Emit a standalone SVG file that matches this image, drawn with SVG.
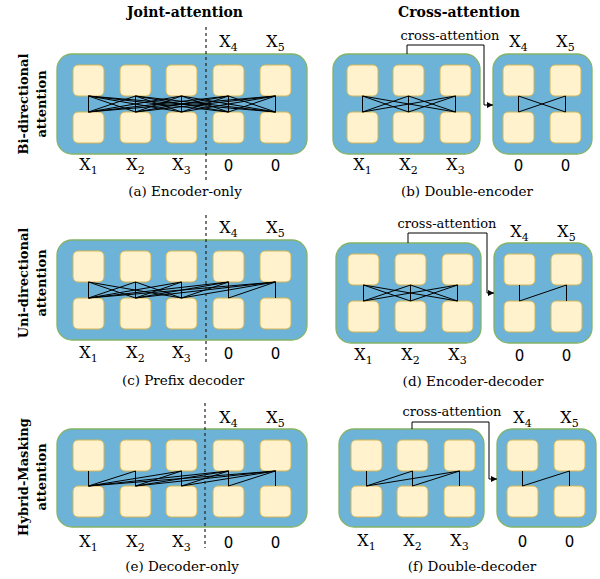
<svg xmlns="http://www.w3.org/2000/svg" width="600" height="579" viewBox="0 0 600 579">
<defs>
<style>
.box{fill:#6db3d8;stroke:#82b366;stroke-width:1.3}
.sq{fill:#fff2cc;stroke:#d6b656;stroke-width:1}
.ln{stroke:#000;stroke-width:1;fill:none}
.dash{stroke:#222;stroke-width:1.2;stroke-dasharray:3,3;fill:none}
.title{font-family:"DejaVu Serif",serif;font-weight:bold;font-size:14px;text-anchor:middle}
.side{font-family:"DejaVu Serif",serif;font-weight:bold;font-size:13px;text-anchor:middle}
.cap{font-family:"DejaVu Serif",serif;font-size:13.5px;text-anchor:middle}
.xl{font-family:"DejaVu Serif",serif;font-size:16px;text-anchor:middle}
.sub{font-size:11px}
.zero{font-family:"DejaVu Sans",sans-serif;font-size:15px;text-anchor:middle}
.ca{font-family:"DejaVu Serif",serif;font-size:13px;text-anchor:middle}
</style>
<marker id="arr" markerUnits="userSpaceOnUse" markerWidth="7" markerHeight="7" refX="6" refY="3" orient="auto">
<path d="M0,0 L6,3 L0,6 z" fill="#000"/>
</marker>
</defs>
<rect width="600" height="579" fill="#fff"/>

<!-- Titles -->
<text class="title" x="185" y="17">Joint-attention</text>
<text class="title" x="459" y="17">Cross-attention</text>

<!-- Side labels -->
<g class="side">
<text transform="translate(28,104) rotate(-90)">Bi-directional</text>
<text transform="translate(46,104) rotate(-90)">attention</text>
<text transform="translate(28,283) rotate(-90)">Uni-directional</text>
<text transform="translate(46,283) rotate(-90)">attention</text>
<text transform="translate(28,477) rotate(-90)">Hybrid-Masking</text>
<text transform="translate(46,477) rotate(-90)">attention</text>
</g>

<!-- ===== Panel (a) ===== -->
<g id="a-container"><rect class="box" x="57" y="54" width="250" height="100" rx="15"/></g>
<g id="a-t1"><rect class="sq" x="73" y="65" width="31" height="31" rx="5"/></g>
<g id="a-t2"><rect class="sq" x="120" y="65" width="31" height="31" rx="5"/></g>
<g id="a-t3"><rect class="sq" x="166" y="65" width="31" height="31" rx="5"/></g>
<g id="a-t4"><rect class="sq" x="213" y="65" width="31" height="31" rx="5"/></g>
<g id="a-t5"><rect class="sq" x="260" y="65" width="31" height="31" rx="5"/></g>
<g id="a-b1"><rect class="sq" x="73" y="112" width="31" height="31" rx="5"/></g>
<g id="a-b2"><rect class="sq" x="120" y="112" width="31" height="31" rx="5"/></g>
<g id="a-b3"><rect class="sq" x="166" y="112" width="31" height="31" rx="5"/></g>
<g id="a-b4"><rect class="sq" x="213" y="112" width="31" height="31" rx="5"/></g>
<g id="a-b5"><rect class="sq" x="260" y="112" width="31" height="31" rx="5"/></g>

<!-- ===== Panel (c) ===== -->
<g id="c-container"><rect class="box" x="57" y="240" width="250" height="100" rx="15"/></g>
<g id="c-t1"><rect class="sq" x="73" y="251" width="31" height="31" rx="5"/></g>
<g id="c-t2"><rect class="sq" x="120" y="251" width="31" height="31" rx="5"/></g>
<g id="c-t3"><rect class="sq" x="166" y="251" width="31" height="31" rx="5"/></g>
<g id="c-t4"><rect class="sq" x="213" y="251" width="31" height="31" rx="5"/></g>
<g id="c-t5"><rect class="sq" x="260" y="251" width="31" height="31" rx="5"/></g>
<g id="c-b1"><rect class="sq" x="73" y="298" width="31" height="31" rx="5"/></g>
<g id="c-b2"><rect class="sq" x="120" y="298" width="31" height="31" rx="5"/></g>
<g id="c-b3"><rect class="sq" x="166" y="298" width="31" height="31" rx="5"/></g>
<g id="c-b4"><rect class="sq" x="213" y="298" width="31" height="31" rx="5"/></g>
<g id="c-b5"><rect class="sq" x="260" y="298" width="31" height="31" rx="5"/></g>

<!-- ===== Panel (e) ===== -->
<g id="e-container"><rect class="box" x="57" y="429" width="250" height="98" rx="15"/></g>
<g id="e-t1"><rect class="sq" x="73" y="440" width="31" height="31" rx="5"/></g>
<g id="e-t2"><rect class="sq" x="120" y="440" width="31" height="31" rx="5"/></g>
<g id="e-t3"><rect class="sq" x="166" y="440" width="31" height="31" rx="5"/></g>
<g id="e-t4"><rect class="sq" x="213" y="440" width="31" height="31" rx="5"/></g>
<g id="e-t5"><rect class="sq" x="260" y="440" width="31" height="31" rx="5"/></g>
<g id="e-b1"><rect class="sq" x="73" y="486" width="31" height="31" rx="5"/></g>
<g id="e-b2"><rect class="sq" x="120" y="486" width="31" height="31" rx="5"/></g>
<g id="e-b3"><rect class="sq" x="166" y="486" width="31" height="31" rx="5"/></g>
<g id="e-b4"><rect class="sq" x="213" y="486" width="31" height="31" rx="5"/></g>
<g id="e-b5"><rect class="sq" x="260" y="486" width="31" height="31" rx="5"/></g>

<!-- ===== Panel (b) ===== -->
<g id="b-enc"><rect class="box" x="333" y="54" width="147" height="100" rx="15"/></g>
<g id="b-dec"><rect class="box" x="493" y="54" width="99" height="100" rx="15"/></g>
<g id="b-t1"><rect class="sq" x="347" y="65" width="31" height="31" rx="5"/></g>
<g id="b-t2"><rect class="sq" x="393" y="65" width="31" height="31" rx="5"/></g>
<g id="b-t3"><rect class="sq" x="440" y="65" width="31" height="31" rx="5"/></g>
<g id="b-t4"><rect class="sq" x="503" y="65" width="31" height="31" rx="5"/></g>
<g id="b-t5"><rect class="sq" x="550" y="65" width="31" height="31" rx="5"/></g>
<g id="b-b1"><rect class="sq" x="347" y="112" width="31" height="31" rx="5"/></g>
<g id="b-b2"><rect class="sq" x="393" y="112" width="31" height="31" rx="5"/></g>
<g id="b-b3"><rect class="sq" x="440" y="112" width="31" height="31" rx="5"/></g>
<g id="b-b4"><rect class="sq" x="503" y="112" width="31" height="31" rx="5"/></g>
<g id="b-b5"><rect class="sq" x="550" y="112" width="31" height="31" rx="5"/></g>

<!-- ===== Panel (d) ===== -->
<g id="d-enc"><rect class="box" x="336" y="243" width="145" height="100" rx="15"/></g>
<g id="d-dec"><rect class="box" x="494" y="243" width="98" height="100" rx="15"/></g>
<g id="d-t1"><rect class="sq" x="348" y="254" width="31" height="31" rx="5"/></g>
<g id="d-t2"><rect class="sq" x="395" y="254" width="31" height="31" rx="5"/></g>
<g id="d-t3"><rect class="sq" x="442" y="254" width="31" height="31" rx="5"/></g>
<g id="d-t4"><rect class="sq" x="504" y="254" width="31" height="31" rx="5"/></g>
<g id="d-t5"><rect class="sq" x="551" y="254" width="31" height="31" rx="5"/></g>
<g id="d-b1"><rect class="sq" x="348" y="301" width="31" height="31" rx="5"/></g>
<g id="d-b2"><rect class="sq" x="395" y="301" width="31" height="31" rx="5"/></g>
<g id="d-b3"><rect class="sq" x="442" y="301" width="31" height="31" rx="5"/></g>
<g id="d-b4"><rect class="sq" x="504" y="301" width="31" height="31" rx="5"/></g>
<g id="d-b5"><rect class="sq" x="551" y="301" width="31" height="31" rx="5"/></g>

<!-- ===== Panel (f) ===== -->
<g id="f-enc"><rect class="box" x="339" y="429" width="145" height="98" rx="15"/></g>
<g id="f-dec"><rect class="box" x="497" y="429" width="99" height="98" rx="15"/></g>
<g id="f-t1"><rect class="sq" x="351" y="440" width="31" height="31" rx="5"/></g>
<g id="f-t2"><rect class="sq" x="397" y="440" width="31" height="31" rx="5"/></g>
<g id="f-t3"><rect class="sq" x="444" y="440" width="31" height="31" rx="5"/></g>
<g id="f-t4"><rect class="sq" x="507" y="440" width="31" height="31" rx="5"/></g>
<g id="f-t5"><rect class="sq" x="554" y="440" width="31" height="31" rx="5"/></g>
<g id="f-b1"><rect class="sq" x="351" y="486" width="31" height="31" rx="5"/></g>
<g id="f-b2"><rect class="sq" x="397" y="486" width="31" height="31" rx="5"/></g>
<g id="f-b3"><rect class="sq" x="444" y="486" width="31" height="31" rx="5"/></g>
<g id="f-b4"><rect class="sq" x="507" y="486" width="31" height="31" rx="5"/></g>
<g id="f-b5"><rect class="sq" x="554" y="486" width="31" height="31" rx="5"/></g>

<!-- ===== Connectors ===== -->
<g id="connectors" class="ln">
<!-- (a) full bidirectional -->
<path d="M88.5,96 L88.5,112 M88.5,96 L135.5,112 M88.5,96 L181.5,112 M88.5,96 L228.5,112 M88.5,96 L275.5,112
M135.5,96 L88.5,112 M135.5,96 L135.5,112 M135.5,96 L181.5,112 M135.5,96 L228.5,112 M135.5,96 L275.5,112
M181.5,96 L88.5,112 M181.5,96 L135.5,112 M181.5,96 L181.5,112 M181.5,96 L228.5,112 M181.5,96 L275.5,112
M228.5,96 L88.5,112 M228.5,96 L135.5,112 M228.5,96 L181.5,112 M228.5,96 L228.5,112 M228.5,96 L275.5,112
M275.5,96 L88.5,112 M275.5,96 L135.5,112 M275.5,96 L181.5,112 M275.5,96 L228.5,112 M275.5,96 L275.5,112"/>
<!-- (c) prefix decoder -->
<path d="M88.5,282 L88.5,298 M88.5,282 L135.5,298 M88.5,282 L181.5,298
M135.5,282 L88.5,298 M135.5,282 L135.5,298 M135.5,282 L181.5,298
M181.5,282 L88.5,298 M181.5,282 L135.5,298 M181.5,282 L181.5,298
M228.5,282 L88.5,298 M228.5,282 L135.5,298 M228.5,282 L181.5,298 M228.5,282 L228.5,298
M275.5,282 L88.5,298 M275.5,282 L135.5,298 M275.5,282 L181.5,298 M275.5,282 L228.5,298 M275.5,282 L275.5,298"/>
<!-- (e) decoder-only causal -->
<path d="M88.5,471 L88.5,486
M135.5,471 L88.5,486 M135.5,471 L135.5,486
M181.5,471 L88.5,486 M181.5,471 L135.5,486 M181.5,471 L181.5,486
M228.5,471 L88.5,486 M228.5,471 L135.5,486 M228.5,471 L181.5,486 M228.5,471 L228.5,486
M275.5,471 L88.5,486 M275.5,471 L135.5,486 M275.5,471 L181.5,486 M275.5,471 L228.5,486 M275.5,471 L275.5,486"/>
<!-- (b) double encoder -->
<path d="M362.5,96 L362.5,112 M362.5,96 L408.5,112 M362.5,96 L455.5,112
M408.5,96 L362.5,112 M408.5,96 L408.5,112 M408.5,96 L455.5,112
M455.5,96 L362.5,112 M455.5,96 L408.5,112 M455.5,96 L455.5,112
M518.5,96 L518.5,112 M518.5,96 L565.5,112 M565.5,96 L518.5,112 M565.5,96 L565.5,112"/>
<!-- (d) encoder-decoder -->
<path d="M363.5,285 L363.5,301 M363.5,285 L410.5,301 M363.5,285 L457.5,301
M410.5,285 L363.5,301 M410.5,285 L410.5,301 M410.5,285 L457.5,301
M457.5,285 L363.5,301 M457.5,285 L410.5,301 M457.5,285 L457.5,301
M519.5,285 L519.5,301 M566.5,285 L519.5,301 M566.5,285 L566.5,301"/>
<!-- (f) double decoder -->
<path d="M366.5,471 L366.5,486
M412.5,471 L366.5,486 M412.5,471 L412.5,486
M459.5,471 L366.5,486 M459.5,471 L412.5,486 M459.5,471 L459.5,486
M522.5,471 L522.5,486 M569.5,471 L522.5,486 M569.5,471 L569.5,486"/>
<!-- cross-attention arrows -->
<path d="M407,54 V45 H484 V105 H493" marker-end="url(#arr)"/>
<path d="M408,243 V233 H487 V293 H494" marker-end="url(#arr)"/>
<path d="M412,429 V422 H489 V479 H497" marker-end="url(#arr)"/>
</g>

<!-- dashed separators -->
<g id="separators">
<line class="dash" x1="206" y1="27" x2="206" y2="180"/>
<line class="dash" x1="206" y1="215" x2="206" y2="363"/>
<line class="dash" x1="205" y1="403" x2="205" y2="548"/>
</g>

<!-- cross-attention labels -->
<text class="ca" x="450" y="40">cross-attention</text>
<text class="ca" x="447" y="228">cross-attention</text>
<text class="ca" x="452" y="416">cross-attention</text>

<!-- token labels -->
<g class="xl">
<text x="228.5" y="47">X<tspan class="sub" dy="4">4</tspan></text>
<text x="275.5" y="47">X<tspan class="sub" dy="4">5</tspan></text>
<text x="88.5" y="170">X<tspan class="sub" dy="4">1</tspan></text>
<text x="135.5" y="170">X<tspan class="sub" dy="4">2</tspan></text>
<text x="181.5" y="170">X<tspan class="sub" dy="4">3</tspan></text>
<text x="228.5" y="233">X<tspan class="sub" dy="4">4</tspan></text>
<text x="275.5" y="233">X<tspan class="sub" dy="4">5</tspan></text>
<text x="88.5" y="358">X<tspan class="sub" dy="4">1</tspan></text>
<text x="135.5" y="358">X<tspan class="sub" dy="4">2</tspan></text>
<text x="181.5" y="358">X<tspan class="sub" dy="4">3</tspan></text>
<text x="228.5" y="423">X<tspan class="sub" dy="4">4</tspan></text>
<text x="275.5" y="423">X<tspan class="sub" dy="4">5</tspan></text>
<text x="88.5" y="547">X<tspan class="sub" dy="4">1</tspan></text>
<text x="135.5" y="547">X<tspan class="sub" dy="4">2</tspan></text>
<text x="181.5" y="547">X<tspan class="sub" dy="4">3</tspan></text>
<text x="518.5" y="47">X<tspan class="sub" dy="4">4</tspan></text>
<text x="565.5" y="47">X<tspan class="sub" dy="4">5</tspan></text>
<text x="362.5" y="170">X<tspan class="sub" dy="4">1</tspan></text>
<text x="408.5" y="170">X<tspan class="sub" dy="4">2</tspan></text>
<text x="455.5" y="170">X<tspan class="sub" dy="4">3</tspan></text>
<text x="519.5" y="237">X<tspan class="sub" dy="4">4</tspan></text>
<text x="566.5" y="237">X<tspan class="sub" dy="4">5</tspan></text>
<text x="363.5" y="360">X<tspan class="sub" dy="4">1</tspan></text>
<text x="410.5" y="360">X<tspan class="sub" dy="4">2</tspan></text>
<text x="457.5" y="360">X<tspan class="sub" dy="4">3</tspan></text>
<text x="522.5" y="423">X<tspan class="sub" dy="4">4</tspan></text>
<text x="569.5" y="423">X<tspan class="sub" dy="4">5</tspan></text>
<text x="366.5" y="546">X<tspan class="sub" dy="4">1</tspan></text>
<text x="412.5" y="546">X<tspan class="sub" dy="4">2</tspan></text>
<text x="459.5" y="546">X<tspan class="sub" dy="4">3</tspan></text>
</g>

<g class="zero">
<text x="228.5" y="171">0</text><text x="275.5" y="171">0</text>
<text x="228.5" y="359">0</text><text x="275.5" y="359">0</text>
<text x="228.5" y="548">0</text><text x="275.5" y="548">0</text>
<text x="518.5" y="171">0</text><text x="565.5" y="171">0</text>
<text x="519.5" y="361">0</text><text x="566.5" y="361">0</text>
<text x="522.5" y="547">0</text><text x="569.5" y="547">0</text>
</g>

<!-- captions -->
<g class="cap">
<text x="185" y="196">(a) Encoder-only</text>
<text x="467" y="196">(b) Double-encoder</text>
<text x="183" y="385">(c) Prefix decoder</text>
<text x="473" y="386">(d) Encoder-decoder</text>
<text x="182" y="571">(e) Decoder-only</text>
<text x="472" y="571">(f) Double-decoder</text>
</g>
</svg>
